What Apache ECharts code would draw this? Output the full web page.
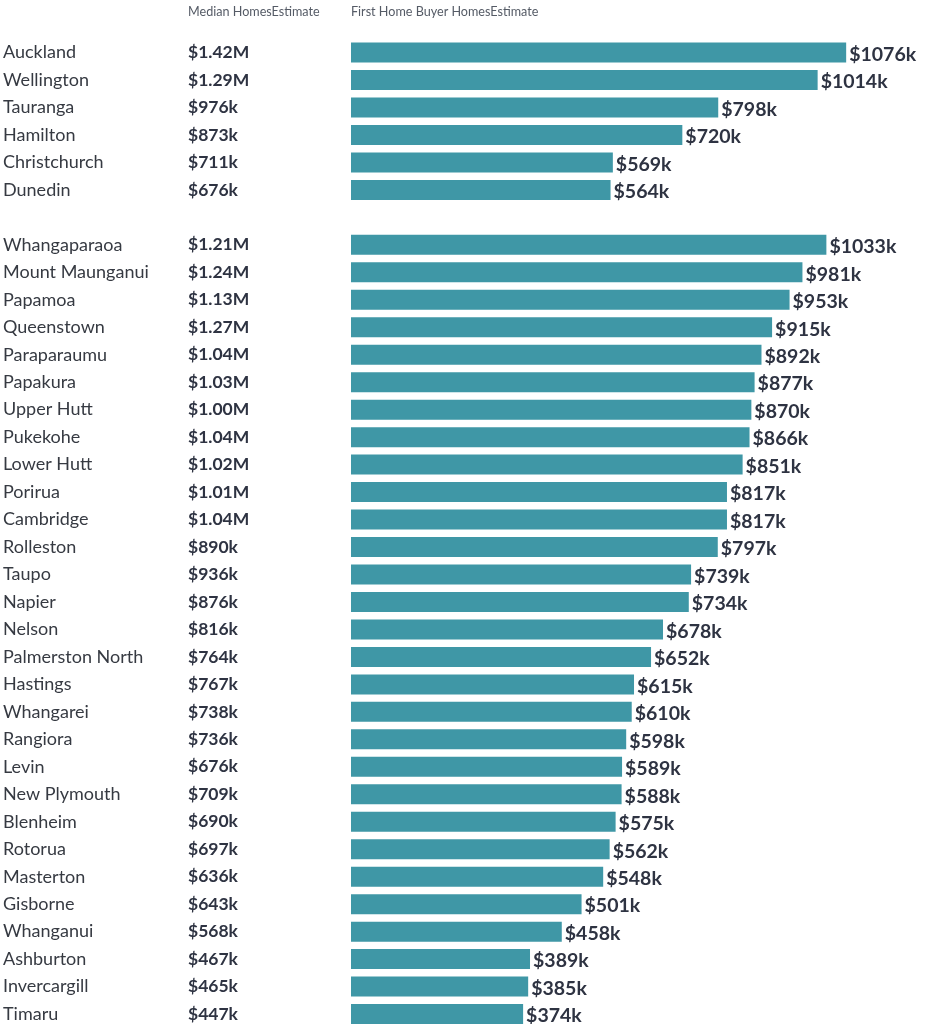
<!DOCTYPE html>
<html>
<head>
<meta charset="utf-8">
<script src="https://cdn.jsdelivr.net/npm/echarts@6/dist/echarts.min.js"></script>
<style>
  html, body { margin: 0; padding: 0; background: #fff; }
  #chart1 { width: 929px; height: 1024px; }
</style>
</head>
<body>
<div id="chart1"></div>
<script>
// places, '' marks the blank row between the two groups
var places = ['Auckland', 'Wellington', 'Tauranga', 'Hamilton', 'Christchurch', 'Dunedin', '',
  'Whangaparaoa', 'Mount Maunganui', 'Papamoa', 'Queenstown', 'Paraparaumu', 'Papakura',
  'Upper Hutt', 'Pukekohe', 'Lower Hutt', 'Porirua', 'Cambridge', 'Rolleston', 'Taupo',
  'Napier', 'Nelson', 'Palmerston North', 'Hastings', 'Whangarei', 'Rangiora', 'Levin',
  'New Plymouth', 'Blenheim', 'Rotorua', 'Masterton', 'Gisborne', 'Whanganui', 'Ashburton',
  'Invercargill', 'Timaru'];

var medianLabels = ['$1.42M', '$1.29M', '$976k', '$873k', '$711k', '$676k', '',
  '$1.21M', '$1.24M', '$1.13M', '$1.27M', '$1.04M', '$1.03M', '$1.00M', '$1.04M', '$1.02M',
  '$1.01M', '$1.04M', '$890k', '$936k', '$876k', '$816k', '$764k', '$767k', '$738k',
  '$736k', '$676k', '$709k', '$690k', '$697k', '$636k', '$643k', '$568k', '$467k',
  '$465k', '$447k'];

// first home buyer estimate, in $k
var fhbValues = [1076, 1014, 798, 720, 569, 564, '-',
  1033, 981, 953, 915, 892, 877, 870, 866, 851, 817, 817, 797, 739, 734, 678, 652,
  615, 610, 598, 589, 588, 575, 562, 548, 501, 458, 389, 385, 374];

var headers = ['Median HomesEstimate', 'First Home Buyer HomesEstimate'];

var fontName = 'Lato';
var textDark = '#2e3342';

var chart1 = echarts.init(document.getElementById('chart1'));

var option = {
    backgroundColor: '#ffffff',
    animation: false,
    title: [
        { text: headers[0], left: 188, top: 5, padding: 0,
          textStyle: { fontFamily: fontName, fontSize: 12.6, fontWeight: 'normal', color: '#555b66' } },
        { text: headers[1], left: 351, top: 5, padding: 0,
          textStyle: { fontFamily: fontName, fontSize: 12.6, fontWeight: 'normal', color: '#555b66' } }
    ],
    grid: {
        left: 351,
        right: 0,
        top: 38.8,
        height: 989,
        containLabel: false,
        outerBoundsMode: 'none'
    },
    xAxis: {
        type: 'value',
        min: 0,
        max: 1256,
        show: false
    },
    yAxis: {
        type: 'category',
        inverse: true,
        data: places,
        axisLine: { show: false },
        axisTick: { show: false },
        splitLine: { show: false },
        axisLabel: {
            align: 'left',
            margin: 348,
            formatter: function (val, idx) {
                if (!val) return '';
                return '{n|' + val + '}{m|' + medianLabels[idx] + '}';
            },
            rich: {
                n: { fontFamily: fontName, fontSize: 18, color: '#363a42', width: 185 },
                m: { fontFamily: fontName, fontSize: 17.5, fontWeight: 'bold', color: textDark }
            }
        }
    },
    series: [
        {
            type: 'bar',
            data: fhbValues,
            barWidth: 20,
            itemStyle: { color: '#3f97a6' },
            label: {
                show: true,
                position: 'right',
                distance: 3,
                offset: [0, 2],
                fontFamily: fontName,
                fontSize: 19.5,
                fontWeight: 'bold',
                color: textDark,
                formatter: function (p) { return '$' + p.value + 'k'; }
            }
        }
    ]
};

chart1.setOption(option);
window.onresize = chart1.resize;
</script>
</body>
</html>
